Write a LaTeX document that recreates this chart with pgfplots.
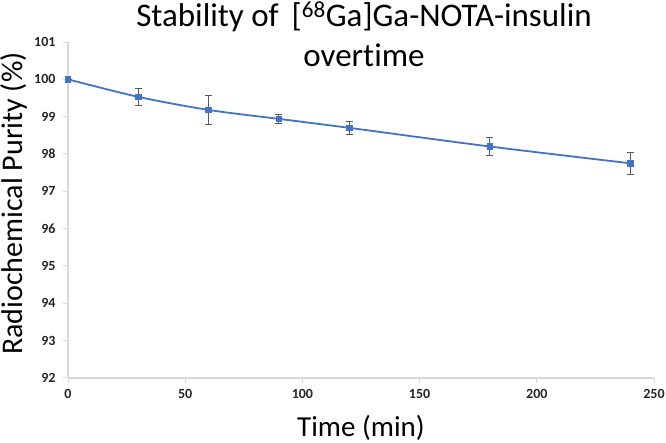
\documentclass[border=0pt]{standalone}
\usepackage{pgfplots}
\pgfplotsset{compat=1.18}
\usepackage{fontspec}
\setmainfont{Carlito}[Ligatures=NoCommon]
\definecolor{lineblue}{HTML}{4472C4}
\definecolor{axgray}{HTML}{D9D9D9}
\definecolor{errgray}{HTML}{595959}
\definecolor{txt}{HTML}{262626}
\begin{document}
\begin{tikzpicture}[x=1pt,y=1pt]
\path[use as bounding box] (0,0) rectangle (666,443);
\begin{axis}[at={(68pt,65pt)}, anchor=south west, scale only axis,
  width=586pt, height=336pt,
  xmin=0, xmax=250, ymin=92, ymax=101,
  xtick={0,50,...,250}, ytick={92,93,...,101},
  axis x line=bottom, axis y line=left,
  axis line style={axgray, line width=1.5pt, -},
  tick style={axgray, line width=1pt}, tick align=outside, major tick length=5pt,
  /pgf/number format/assume math mode=true,
  ticklabel style={font=\fontsize{14}{16}\selectfont\bfseries, text=txt},
  xticklabel style={yshift=-3pt},
  yticklabel style={xshift=-4pt},
  xlabel={Time (min)},
  xlabel style={font=\fontsize{29}{32}\selectfont, text=black,
    at={(axis description cs:0.5,-0.1756)}, anchor=base},
  ylabel={Radiochemical Purity (\%)},
  ylabel style={font=\fontsize{30}{34}\selectfont, text=black,
    at={(axis description cs:-0.0768,0.519)}, anchor=base},
  clip=false,
]
\addplot[lineblue, line width=1.8pt, smooth, mark=square*, mark size=2.4pt,
  mark options={lineblue, solid},
  error bars/.cd, y dir=both, y explicit,
  error bar style={errgray, line width=1pt},
  error mark options={rotate=90, mark size=3.5pt, errgray, line width=1pt}]
coordinates {
 (0,100) +- (0,0)
 (30,99.53) +- (0,0.22)
 (60,99.18) +- (0,0.38)
 (90,98.94) +- (0,0.11)
 (120,98.70) +- (0,0.18)
 (180,98.20) +- (0,0.23)
 (240,97.75) +- (0,0.30)
};
\end{axis}
\node[anchor=base, font=\fontsize{33}{36}\selectfont] at (364,416) {Stability of \,[\textsuperscript{68}Ga]Ga-NOTA-insulin};
\node[anchor=base, font=\fontsize{33}{36}\selectfont] at (364,376) {overtime};
\end{tikzpicture}
\end{document}
